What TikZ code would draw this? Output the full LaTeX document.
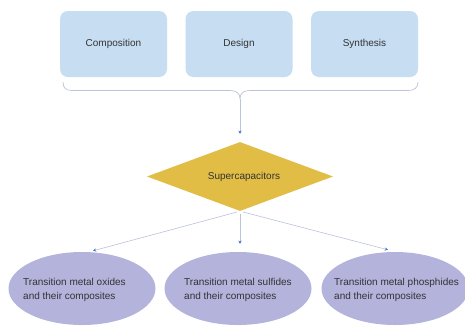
\documentclass[tikz,border=0pt]{standalone}
\usepackage{fontspec}
\setmainfont{Liberation Sans}
\usetikzlibrary{shapes.geometric,arrows.meta}
\definecolor{boxblue}{HTML}{C6DDF2}
\definecolor{gold}{HTML}{E2BD45}
\definecolor{lav}{HTML}{B3B3DC}
\definecolor{linegray}{HTML}{BCC3DA}
\definecolor{tipblue}{HTML}{4472C4}
\definecolor{txt}{HTML}{333333}
\tikzset{
  topbox/.style={draw=none, fill=boxblue, rounded corners=8pt, minimum width=107pt, minimum height=66pt, inner sep=0pt, font=\fontsize{10}{12}\selectfont, text=txt},
  gem/.style={diamond, draw=none, fill=gold, minimum width=186pt, minimum height=69pt, aspect=2.7, inner sep=0pt, font=\fontsize{10}{12}\selectfont, text=txt},
  oval/.style={ellipse, draw=none, fill=lav, minimum width=147pt, minimum height=73pt, inner sep=0pt},
  ovaltext/.style={align=left, inner sep=0pt, font=\fontsize{10}{14}\selectfont, text=txt},
  conn/.style={draw=linegray, line width=0.6pt, -{Stealth[length=3.2pt,width=3.2pt,color=tipblue]}},
  bracepath/.style={draw=linegray, line width=0.7pt}
}
\begin{document}
\begin{tikzpicture}[x=1pt,y=-1pt]
\useasboundingbox[fill=white] (0,0) rectangle (465,325);
\node[topbox] (comp) at (113.5,44) {Composition};
\node[topbox] (des) at (239,44) {Design};
\node[topbox] (syn) at (364.5,44) {Synthesis};
\coordinate (tip) at (240,98.5);
\draw[bracepath] (63,82) .. controls (63,88) and (66,90.5) .. (72,90.5) -- (230,90.5) .. controls (236,90.5) and (240,93) .. (tip)
  .. controls (240,93) and (244,90.5) .. (250,90.5) -- (408,90.5) .. controls (414,90.5) and (418,88) .. (418,82);
\node[gem] (sc) at (240,176.5) {\hspace*{8pt}Supercapacitors};
\draw[conn, shorten >=8pt] (tip) -- (sc.north);
\node[oval] (e1) at (82,288.5) {};
\node[oval] (e2) at (238,288.5) {};
\node[oval] (e3) at (395,288.5) {};
\node[ovaltext, anchor=west] (t1) at (23,290) {Transition metal oxides\\and their composites};
\node[ovaltext, anchor=west] (t2) at (184,290) {Transition metal sulfides\\and their composites};
\node[ovaltext, anchor=west] (t3) at (334,290) {Transition metal phosphides\\and their composites};
\draw[conn, shorten <=3pt] (sc.south) -- ([xshift=11pt,yshift=1pt]e1.north);
\draw[conn, shorten <=3pt, shorten >=8pt] (sc.south) -- ([xshift=2pt]e2.north);
\draw[conn, shorten <=3pt] (sc.south) -- ([xshift=-7pt,yshift=2pt]e3.north);
\end{tikzpicture}
\end{document}
